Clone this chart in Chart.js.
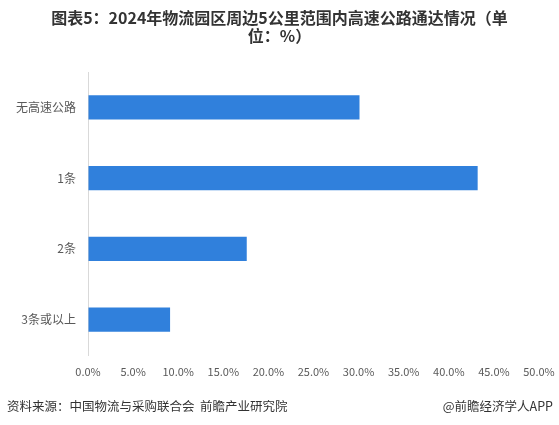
<!DOCTYPE html>
<html><head><meta charset="utf-8">
<script src="https://cdn.jsdelivr.net/npm/chart.js@4/dist/chart.umd.min.js"></script>
<style>
html,body{margin:0;padding:0;background:#fff;}
#wrap{position:relative;width:559px;height:425px;overflow:hidden;font-family:"Noto Sans CJK SC","Noto Sans",sans-serif;}
#title{position:absolute;left:0;top:8px;width:559px;text-align:center;font-weight:bold;font-size:16px;line-height:18px;color:#333;}
#src{position:absolute;left:7px;top:396px;font-size:12.5px;color:#333;white-space:nowrap;}
#app{position:absolute;right:6px;top:396px;font-size:12.5px;color:#333;white-space:nowrap;}
canvas{position:absolute;left:0;top:0;}
</style></head>
<body><div id="wrap">
<canvas id="c" width="559" height="425"></canvas>
<div id="title">图表5：2024年物流园区周边5公里范围内高速公路通达情况（单<br>位：%）</div>
<div id="src">资料来源：中国物流与采购联合会&nbsp;&nbsp;前瞻产业研究院</div>
<div id="app">@前瞻经济学人APP</div>
</div>
<script>
const categories = ['无高速公路', '1条', '2条', '3条或以上'];
const shares = [30.1, 43.2, 17.6, 9.1];
const xTicks = [0, 5, 10, 15, 20, 25, 30, 35, 40, 45, 50];

new Chart(document.getElementById('c'), {
  type: 'bar',
  data: {
    labels: categories,
    datasets: [{
      data: shares,
      backgroundColor: '#3080DC',
      borderWidth: 0,
      barPercentage: 0.34,
      categoryPercentage: 1
    }]
  },
  options: {
    indexAxis: 'y',
    responsive: false,
    animation: false,
    devicePixelRatio: 1,
    layout: { padding: { left: 0, right: 20, top: 72, bottom: 0 } },
    plugins: { legend: { display: false }, title: { display: false }, tooltip: { enabled: false } },
    scales: {
      x: {
        min: 0, max: 50,
        afterBuildTicks: s => { s.ticks = xTicks.map(v => ({ value: v })); },
        afterFit: s => { s.height = 70; },
        grid: { display: true, drawOnChartArea: false, drawTicks: true, tickLength: 10, color: 'rgba(0,0,0,0)' },
        border: { display: false },
        ticks: {
          padding: 0,
          color: '#595959',
          font: { family: '"Noto Sans CJK SC", "Noto Sans", sans-serif', size: 11 },
          callback: v => Number(v).toFixed(1) + '%'
        }
      },
      y: {
        afterFit: s => { s.width = 88; },
        grid: { display: false, drawTicks: false },
        border: { display: true, color: '#d9d9d9', width: 1 },
        ticks: {
          padding: 12,
          color: '#595959',
          font: { family: '"Noto Sans CJK SC", "Noto Sans", sans-serif', size: 12 }
        }
      }
    }
  }
});
</script>
</body></html>
